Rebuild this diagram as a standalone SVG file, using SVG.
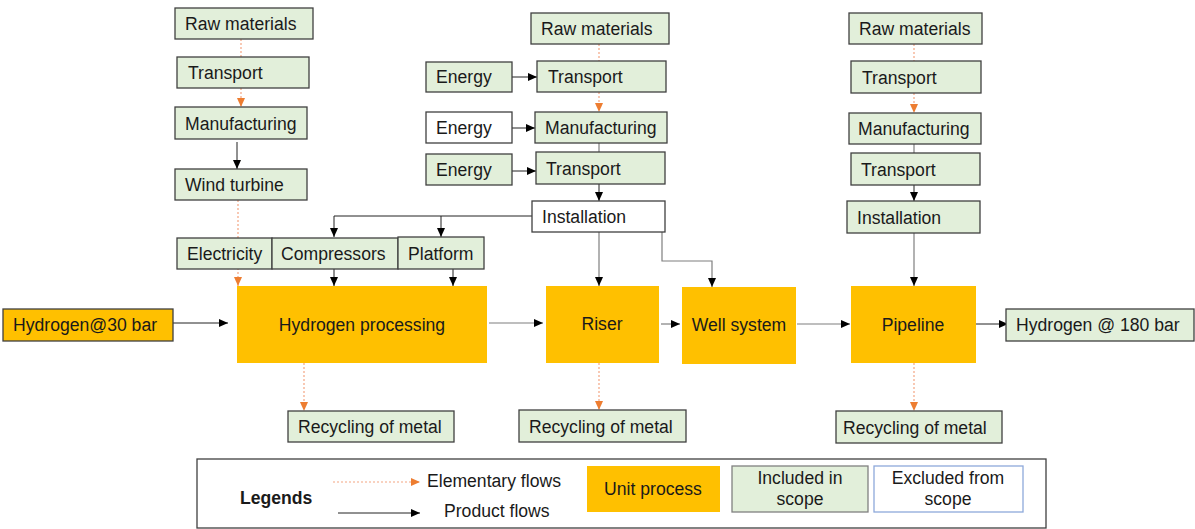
<svg xmlns="http://www.w3.org/2000/svg" width="1195" height="529" viewBox="0 0 1195 529">
  <style>
    .inc { fill: #e2efda; stroke: #404040; stroke-width: 1.3; }
    .exc { fill: #ffffff; stroke: #404040; stroke-width: 1.3; }
    .unit { fill: #ffc000; stroke: none; }
    .t { font-family: "Liberation Sans", Arial, sans-serif; font-size: 17.6px; fill: #1a1a1a; }
    .c { text-anchor: middle; }
    .prod { fill: none; stroke: #222222; stroke-width: 1; }
    .grey { fill: none; stroke: #7f7f7f; stroke-width: 1.2; }
    .elem { fill: none; stroke: #f4a582; stroke-width: 1.2; stroke-dasharray: 2 2; }
  </style>
  <defs>
    <marker id="ah" markerUnits="userSpaceOnUse" markerWidth="10" markerHeight="10" viewBox="0 0 10 10" refX="9" refY="5" orient="auto">
      <path d="M0,1 L9,5 L0,9 Z" fill="#000000"/>
    </marker>
    <marker id="ahO" markerUnits="userSpaceOnUse" markerWidth="10" markerHeight="10" viewBox="0 0 10 10" refX="9" refY="5" orient="auto">
      <path d="M0,1 L9,5 L0,9 Z" fill="#ed7d31"/>
    </marker>
  </defs>

  <!-- connectors -->
  <g id="connectors">
    <!-- left column -->
    <line class="elem" x1="241" y1="39" x2="241" y2="57"/>
    <line class="elem" x1="241" y1="88" x2="241" y2="107" marker-end="url(#ahO)"/>
    <line class="prod" x1="237" y1="142" x2="237" y2="169" marker-end="url(#ah)"/>
    <line class="elem" x1="238" y1="200" x2="238" y2="286" marker-end="url(#ahO)"/>
    <!-- installation branches to compressors and platform -->
    <polyline class="prod" points="532,216 334,216 334,237" marker-end="url(#ah)"/>
    <line class="prod" x1="441" y1="216" x2="441" y2="237" marker-end="url(#ah)"/>
    <line class="prod" x1="334" y1="269" x2="334" y2="286" marker-end="url(#ah)"/>
    <line class="prod" x1="453" y1="269" x2="453" y2="286" marker-end="url(#ah)"/>
    <!-- middle column -->
    <line class="elem" x1="599" y1="44" x2="599" y2="61"/>
    <line class="elem" x1="599" y1="92" x2="599" y2="112" marker-end="url(#ahO)"/>
    <line class="prod" x1="512" y1="77" x2="537" y2="77" marker-end="url(#ah)"/>
    <line class="prod" x1="512" y1="128" x2="535" y2="128" marker-end="url(#ah)"/>
    <line class="prod" x1="512" y1="171" x2="536" y2="171" marker-end="url(#ah)"/>
    <line class="grey" x1="599" y1="143" x2="599" y2="152"/>
    <line class="prod" x1="599" y1="184" x2="599" y2="201" marker-end="url(#ah)"/>
    <line class="grey" x1="599" y1="232" x2="599" y2="286" marker-end="url(#ah)"/>
    <polyline class="grey" points="662,232 662,261 712,261 712,287" marker-end="url(#ah)"/>
    <!-- right column -->
    <line class="elem" x1="914" y1="44" x2="914" y2="61"/>
    <line class="elem" x1="914" y1="93" x2="914" y2="113" marker-end="url(#ahO)"/>
    <line class="grey" x1="914" y1="144" x2="914" y2="153"/>
    <line class="prod" x1="914" y1="185" x2="914" y2="201" marker-end="url(#ah)"/>
    <line class="grey" x1="914" y1="233" x2="914" y2="286" marker-end="url(#ah)"/>
    <!-- main chain -->
    <line class="prod" x1="173" y1="323" x2="228" y2="323" marker-end="url(#ah)"/>
    <line class="grey" x1="489" y1="323" x2="543" y2="323" marker-end="url(#ah)"/>
    <line class="grey" x1="661" y1="324" x2="680" y2="324" marker-end="url(#ah)"/>
    <line class="grey" x1="797" y1="324" x2="850" y2="324" marker-end="url(#ah)"/>
    <line class="prod" x1="976" y1="324" x2="1008" y2="324" marker-end="url(#ah)"/>
    <!-- end of life -->
    <line class="elem" x1="304" y1="363" x2="304" y2="411" marker-end="url(#ahO)"/>
    <line class="elem" x1="599" y1="363" x2="599" y2="410" marker-end="url(#ahO)"/>
    <line class="elem" x1="914" y1="363" x2="914" y2="411" marker-end="url(#ahO)"/>
  </g>

  <!-- left column nodes -->
  <g id="raw-materials-1"><rect class="inc" x="175" y="8" width="138" height="31"/><text class="t" x="185" y="30">Raw materials</text></g>
  <g id="transport-1"><rect class="inc" x="177" y="57" width="132" height="31"/><text class="t" x="188" y="79">Transport</text></g>
  <g id="manufacturing-1"><rect class="inc" x="175" y="107" width="132" height="32"/><text class="t" x="185" y="130">Manufacturing</text></g>
  <g id="wind-turbine"><rect class="inc" x="175" y="169" width="132" height="31"/><text class="t" x="185" y="191">Wind turbine</text></g>
  <g id="electricity"><rect class="inc" x="177" y="238" width="95" height="31"/><text class="t" x="187" y="260">Electricity</text></g>
  <g id="compressors"><rect class="inc" x="272" y="238" width="126" height="31"/><text class="t" x="281" y="260">Compressors</text></g>
  <g id="platform"><rect class="inc" x="398" y="237" width="86" height="32"/><text class="t" x="408" y="260">Platform</text></g>

  <!-- middle column nodes -->
  <g id="raw-materials-2"><rect class="inc" x="531" y="13" width="138" height="31"/><text class="t" x="541" y="35">Raw materials</text></g>
  <g id="energy-1"><rect class="inc" x="426" y="62" width="86" height="30"/><text class="t" x="436" y="83">Energy</text></g>
  <g id="transport-2"><rect class="inc" x="537" y="61" width="129" height="31"/><text class="t" x="548" y="83">Transport</text></g>
  <g id="energy-2"><rect class="exc" x="426" y="112" width="86" height="31"/><text class="t" x="436" y="134">Energy</text></g>
  <g id="manufacturing-2"><rect class="inc" x="535" y="112" width="132" height="31"/><text class="t" x="545" y="134">Manufacturing</text></g>
  <g id="energy-3"><rect class="inc" x="426" y="154" width="86" height="31"/><text class="t" x="436" y="176">Energy</text></g>
  <g id="transport-3"><rect class="inc" x="536" y="152" width="129" height="32"/><text class="t" x="546" y="175">Transport</text></g>
  <g id="installation-1"><rect class="exc" x="532" y="201" width="133" height="31"/><text class="t" x="542" y="223">Installation</text></g>

  <!-- right column nodes -->
  <g id="raw-materials-3"><rect class="inc" x="849" y="13" width="133" height="31"/><text class="t" x="859" y="35">Raw materials</text></g>
  <g id="transport-4"><rect class="inc" x="851" y="61" width="130" height="32"/><text class="t" x="862" y="84">Transport</text></g>
  <g id="manufacturing-3"><rect class="inc" x="849" y="113" width="132" height="31"/><text class="t" x="858" y="135">Manufacturing</text></g>
  <g id="transport-5"><rect class="inc" x="851" y="153" width="129" height="32"/><text class="t" x="861" y="176">Transport</text></g>
  <g id="installation-2"><rect class="inc" x="847" y="201" width="133" height="32"/><text class="t" x="857" y="224">Installation</text></g>

  <!-- main chain nodes -->
  <g id="hydrogen-30"><rect x="3" y="309" width="170" height="32" fill="#ffc000" stroke="#404040" stroke-width="1.3"/><text class="t" x="13" y="331">Hydrogen@30 bar</text></g>
  <g id="hydrogen-processing"><rect class="unit" x="237" y="286" width="250" height="77"/><text class="t c" x="362" y="331">Hydrogen processing</text></g>
  <g id="riser"><rect class="unit" x="546" y="286" width="113" height="77"/><text class="t c" x="602" y="330">Riser</text></g>
  <g id="well-system"><rect class="unit" x="682" y="287" width="114" height="77"/><text class="t c" x="739" y="331">Well system</text></g>
  <g id="pipeline"><rect class="unit" x="851" y="286" width="125" height="77"/><text class="t c" x="913" y="331">Pipeline</text></g>
  <g id="hydrogen-180"><rect class="inc" x="1006" y="309" width="188" height="32"/><text class="t" x="1016" y="331">Hydrogen @ 180 bar</text></g>

  <!-- recycling nodes -->
  <g id="recycling-1"><rect class="inc" x="288" y="411" width="166" height="31"/><text class="t" x="298" y="433">Recycling of metal</text></g>
  <g id="recycling-2"><rect class="inc" x="519" y="410" width="167" height="32"/><text class="t" x="529" y="433">Recycling of metal</text></g>
  <g id="recycling-3"><rect class="inc" x="836" y="411" width="166" height="32"/><text class="t" x="843" y="434">Recycling of metal</text></g>

  <!-- legend -->
  <g id="legend">
    <rect x="197" y="459" width="849" height="69" fill="#ffffff" stroke="#404040" stroke-width="1.3"/>
    <text class="t" x="240" y="504" font-weight="bold">Legends</text>
    <line class="elem" x1="333" y1="482" x2="420" y2="482" marker-end="url(#ahO)"/>
    <text class="t" x="427" y="487">Elementary flows</text>
    <line class="prod" x1="338" y1="513" x2="420" y2="513" marker-end="url(#ah)"/>
    <text class="t" x="444" y="517">Product flows</text>
    <rect class="unit" x="587" y="466" width="133" height="46"/>
    <text class="t c" x="653" y="495">Unit process</text>
    <rect x="732" y="466" width="136" height="46" fill="#e2efda" stroke="#808080" stroke-width="1.3"/>
    <text class="t c" x="800" y="484">Included in</text>
    <text class="t c" x="800" y="505">scope</text>
    <rect x="874" y="466" width="149" height="46" fill="#ffffff" stroke="#8ea9db" stroke-width="1.3"/>
    <text class="t c" x="948" y="484">Excluded from</text>
    <text class="t c" x="948" y="505">scope</text>
  </g>
</svg>
